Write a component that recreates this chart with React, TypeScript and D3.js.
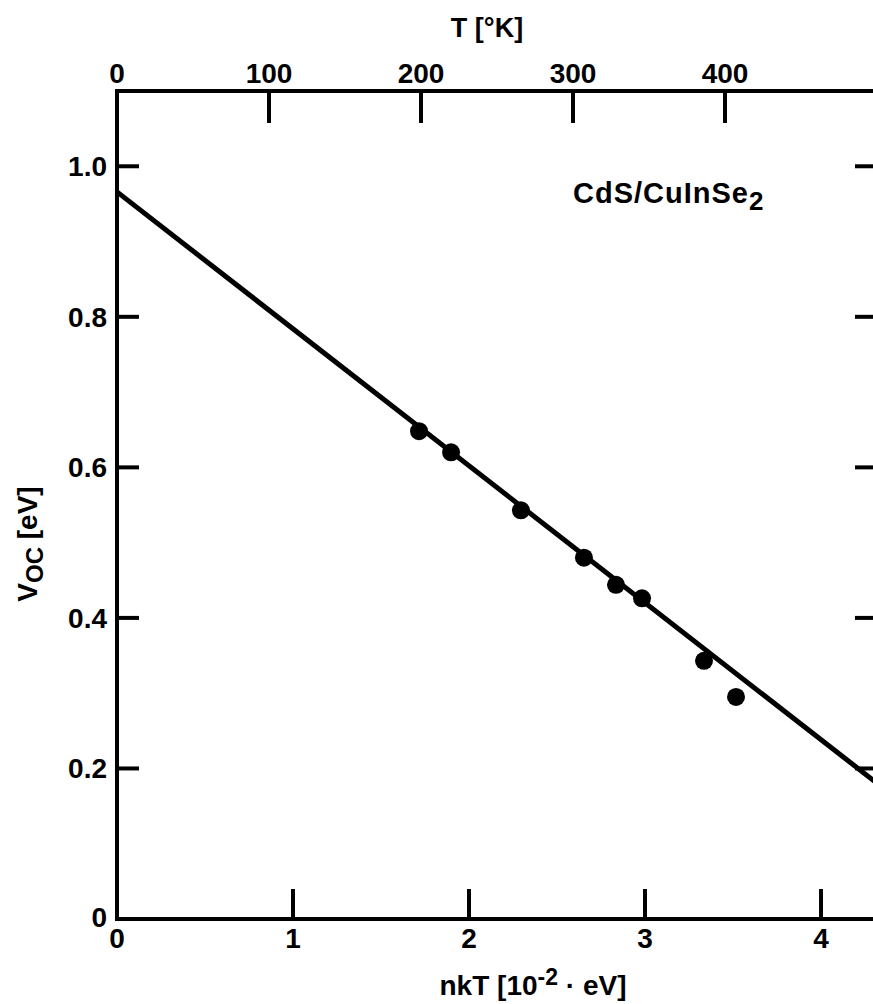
import React from "react";
import * as d3 from "d3";

const nkT = [1.716, 1.898, 2.295, 2.653, 2.835, 2.983, 3.335, 3.517];
const voc = [0.648, 0.62, 0.543, 0.48, 0.444, 0.426, 0.343, 0.295];
const fitX = [0, 4.32];
const fitV = [0.966, 0.18];
const xTicks = [0, 1, 2, 3, 4];
const tTicks = [0, 100, 200, 300, 400];
const yTicks = [0, 0.2, 0.4, 0.6, 0.8, 1.0];
const yTickLabels = ["0", "0.2", "0.4", "0.6", "0.8", "1.0"];

const W = 873;
const H = 1004;
const left = 117;
const right = 877;
const top = 91;
const bottom = 919;

export default function App() {
  const x = d3.scaleLinear().domain([0, 4.318]).range([left, right]);
  const t = d3.scaleLinear().domain([0, 500]).range([left, right]);
  const y = d3.scaleLinear().domain([0, 1.1]).range([bottom, top]);
  const line = d3
    .line<number>()
    .x((d) => x(fitX[d]))
    .y((d) => y(fitV[d]));
  const font = "'Liberation Sans', Arial, Helvetica, sans-serif";
  return (
    <svg
      width={W}
      height={H}
      style={{ position: "absolute", left: 0, top: 0, background: "#fff" }}
      fontFamily={font}
      fontWeight="bold"
    >
      <rect x={0} y={0} width={W} height={H} fill="#fff" />
      {/* frame */}
      <g stroke="#000" strokeWidth={4} fill="none">
        <line x1={left} y1={top} x2={right} y2={top} />
        <line x1={left} y1={bottom} x2={right} y2={bottom} />
        <line x1={left} y1={top - 2} x2={left} y2={bottom + 2} />
        <line x1={right} y1={top - 2} x2={right} y2={bottom + 2} />
      </g>
      {/* ticks */}
      <g stroke="#000" strokeWidth={4}>
        {xTicks.filter((v) => v > 0).map((v) => (
          <line key={"bx" + v} x1={x(v)} x2={x(v)} y1={bottom} y2={bottom - 30} />
        ))}
        {tTicks.filter((v) => v > 0).map((v) => (
          <line key={"tx" + v} x1={t(v)} x2={t(v)} y1={top} y2={top + 32} />
        ))}
        {yTicks.filter((v) => v > 0).map((v) => (
          <line key={"ly" + v} x1={left} x2={left + 22} y1={y(v)} y2={y(v)} />
        ))}
        {yTicks.filter((v) => v > 0).map((v) => (
          <line key={"ry" + v} x1={right} x2={right - 22} y1={y(v)} y2={y(v)} />
        ))}
      </g>
      {/* tick labels */}
      <g fontSize={28} textAnchor="middle">
        {xTicks.map((v) => (
          <text key={"bxl" + v} x={x(v)} y={948}>
            {v}
          </text>
        ))}
        {tTicks.map((v) => (
          <text key={"txl" + v} x={t(v)} y={83}>
            {v}
          </text>
        ))}
      </g>
      <g fontSize={28} textAnchor="end">
        {yTicks.map((v, i) => (
          <text key={"lyl" + v} x={107} y={y(v) + (v === 0 ? 8 : 10)}>
            {yTickLabels[i]}
          </text>
        ))}
      </g>
      {/* fit line */}
      <path d={line([0, 1]) || ""} stroke="#000" strokeWidth={5} fill="none" />
      {/* data points */}
      <g fill="#000">
        {nkT.map((v, i) => (
          <circle key={"p" + i} cx={x(v)} cy={y(voc[i])} r={9} />
        ))}
      </g>
      {/* label */}
      <text x={573} y={203} fontSize={29} letterSpacing={1}>
        CdS/CuInSe
        <tspan fontSize={26} dy={7}>2</tspan>
      </text>
      {/* axis titles */}
      <text x={487} y={37} fontSize={27} textAnchor="middle">
        T [°K]
      </text>
      <text x={533} y={995} fontSize={28} textAnchor="middle">
        nkT [10
        <tspan fontSize={23} dy={-10}>-2</tspan>
        <tspan dy={10}> · eV]</tspan>
      </text>
      <text
        transform={`translate(37, 544) rotate(-90)`}
        fontSize={28}
        textAnchor="middle"
      >
        V
        <tspan fontSize={24} dy={6}>OC</tspan>
        <tspan dy={-6}> [eV]</tspan>
      </text>
    </svg>
  );
}
